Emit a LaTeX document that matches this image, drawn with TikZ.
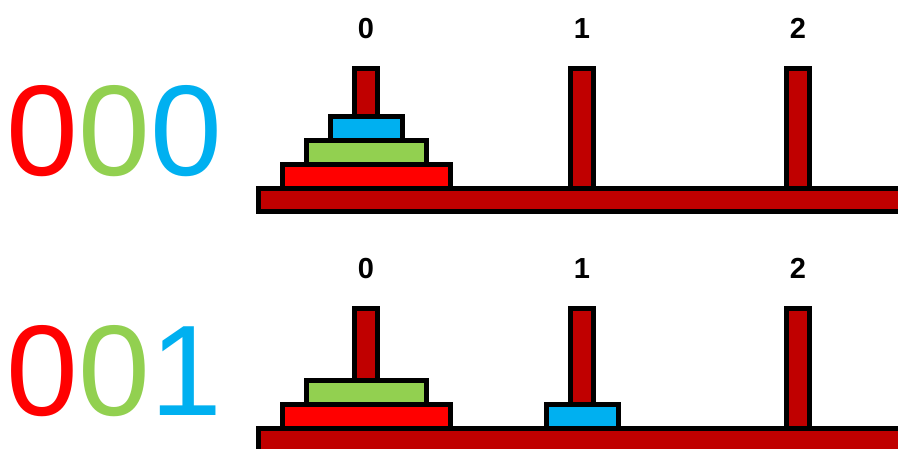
\documentclass[tikz,border=0pt]{standalone}
\usepackage{fontspec}
\setmainfont{Liberation Sans}
\definecolor{darkred}{HTML}{C00000}
\definecolor{dred}{HTML}{FF0000}
\definecolor{dgreen}{HTML}{92D050}
\definecolor{dblue}{HTML}{00B0F0}
\begin{document}
\begin{tikzpicture}[x=1pt,y=-1pt,
  part/.style={draw=black,line width=5pt},
  peglabel/.style={anchor=base,inner sep=0pt,font=\fontsize{29}{29}\selectfont\bfseries},
  bignum/.style={anchor=base west,inner sep=0pt,font=\fontsize{129}{129}\selectfont}]
\clip (0,0) rectangle (898,448);
\fill[white] (0,0) rectangle (898,448);
% ---------- top row ----------
\foreach \px/\lab in {366/0,582/1,798/2}{
  \node[peglabel] (tl\lab) at (\px,38) {\lab};
  \filldraw[part,fill=darkred] (\px-11.7,68) rectangle (\px+11.7,190);
}
\filldraw[part,fill=darkred] (258.2,188) rectangle (910,211);
\filldraw[part,fill=dred] (282,164) rectangle (450,188);
\filldraw[part,fill=dgreen] (306,140) rectangle (426,164);
\filldraw[part,fill=dblue] (330,116) rectangle (402,140);
\node[bignum] (numtop) at (6.6,175.5) {\textcolor{dred}{0}\textcolor{dgreen}{0}\textcolor{dblue}{0}};
% ---------- bottom row ----------
\foreach \px/\lab in {366/0,582/1,798/2}{
  \node[peglabel] (bl\lab) at (\px,278) {\lab};
  \filldraw[part,fill=darkred] (\px-11.7,308) rectangle (\px+11.7,430);
}
\filldraw[part,fill=darkred] (258.2,428) rectangle (910,451);
\filldraw[part,fill=dred] (282,404) rectangle (450,428);
\filldraw[part,fill=dgreen] (306,380) rectangle (426,404);
\filldraw[part,fill=dblue] (546,404) rectangle (618,428);
\node[bignum] (numbot) at (6.6,415.5) {\textcolor{dred}{0}\textcolor{dgreen}{0}\textcolor{dblue}{1}};
\end{tikzpicture}
\end{document}
